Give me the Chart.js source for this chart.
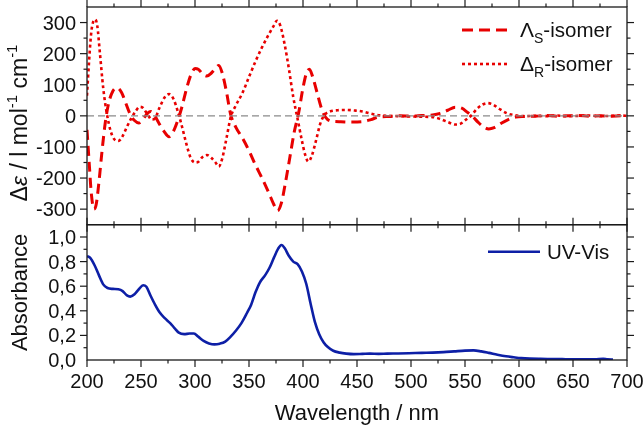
<!DOCTYPE html>
<html><head><meta charset="utf-8">
<script src="https://cdn.jsdelivr.net/npm/chart.js@4/dist/chart.umd.min.js"></script>
<style>html,body{margin:0;padding:0;background:#fff;}canvas{display:block;}</style>
</head><body>
<canvas id="c" width="644" height="426"></canvas>
<script>
// ---------- DATA ----------
const lambdaWl = [200,202,204,206.5,208.5,211,214,217,220,224,228,232,236,240,244,248,252,256,259,262,266,271,276,280,284,288,292,296,300,303,307,311,315,319,322,325,329,333,338,344,350,356,362,368,373,376.5,380,384,388,392,396,400,403,406,409,413,417,421,426,435,445,455,463,470,480,490,500,510,520,527,534,541,547,552,557,562,567,572,577,583,590,597,605,615,625,635,645,655,665,675,685,695,700];
const lambdaCD = [-45,-150,-250,-300,-285,-215,-110,-20,40,80,90,75,40,5,-15,-23,-10,8,14,5,-20,-48,-67,-50,-15,30,85,130,152,150,135,128,137,152,162,140,80,5,-38,-72,-112,-158,-200,-245,-285,-305,-280,-210,-130,-50,10,90,135,150,125,75,25,-5,-17,-19,-20,-19,-12,-4,-2,0,-1,1,3,8,18,28,25,12,-2,-20,-35,-42,-38,-25,-12,-4,-2,-1,1,-1,0,1,-1,0,-1,0,-1];

const deltaWl = [200,202,204,206,207.5,209.5,212,215,218,222,226,229,233,237,241,245,249,252,256,260,263,267,272,276,280,284,288,292,296,300,303,307,311,315,319,322,325,329,333,338,344,350,356,362,368,373,376,379,383,387,391,395,399,402,405,408,412,416,420,425,432,440,448,455,463,470,480,490,500,510,520,527,534,541,546,551,556,561,566,571,576,582,589,596,605,615,625,635,645,655,665,675,685,695,700];
const deltaCD = [65,180,270,305,310,290,200,90,15,-50,-78,-81,-65,-35,-8,15,29,25,5,-12,-8,25,60,70,55,15,-35,-90,-135,-150,-148,-132,-126,-135,-150,-163,-140,-75,-5,35,74,125,175,220,260,290,306,290,230,150,60,-10,-80,-125,-147,-130,-80,-25,3,14,18,19,17,14,7,2,0,-1,-2,-3,-4,-10,-20,-28,-25,-12,2,22,36,41,36,22,8,2,-1,0,-1,1,-1,0,1,-1,0,1,0];

const uvWl = [200,203,207,211,215,219,224,229,233,237,240,244,248,252,255,259,263,267,272,277,281,285,290,295,299,303,308,313,318,323,328,333,338,343,348,352,356,360,365,369,373,377,380,383,387,391,395,399,403,407,411,415,419,423,428,434,440,447,455,462,470,478,488,498,510,520,530,540,550,558,565,572,580,588,595,602,610,620,630,640,650,660,670,678,682,687];
const uvAbs = [0.845,0.83,0.77,0.69,0.615,0.585,0.578,0.575,0.56,0.525,0.515,0.535,0.575,0.608,0.595,0.52,0.45,0.39,0.34,0.30,0.26,0.222,0.21,0.215,0.215,0.19,0.155,0.135,0.127,0.133,0.15,0.19,0.24,0.30,0.38,0.45,0.55,0.63,0.69,0.75,0.83,0.905,0.935,0.91,0.845,0.80,0.78,0.72,0.62,0.46,0.31,0.21,0.145,0.105,0.075,0.06,0.052,0.048,0.05,0.052,0.05,0.052,0.053,0.055,0.058,0.06,0.064,0.07,0.076,0.078,0.07,0.058,0.043,0.03,0.022,0.015,0.011,0.009,0.008,0.007,0.006,0.006,0.005,0.01,0.005,0.004];

const xRange = [200, 700];
const cdRange = [-350, 350];
const absRange = [0, 1.1];
const xMajor = [200,250,300,350,400,450,500,550,600,650,700];
const xLabels = ['200','250','300','350','400','450','500','550','600','650','700'];
const cdMajor = [-300,-200,-100,0,100,200,300];
const cdLabels = ['-300','-200','-100','0','100','200','300'];
const absMajor = [0,0.2,0.4,0.6,0.8,1.0];
const absLabels = ['0,0','0,2','0,4','0,6','0,8','1,0'];
const xMinorStep = 25, cdMinorStep = 50, absMinorStep = 0.1;

// ---------- STYLE ----------
const RED = 'rgb(232,0,0)';
const BLUE = '#0d1fa6';
const FONT = '"Liberation Sans", Arial, sans-serif';
const SPLIT = 0.6167; // fraction of plot height used by the CD panel

const pts = (xs, ys) => xs.map((v, i) => ({x: v, y: ys[i]}));

const decor = {
  id: 'decor',
  afterDraw(chart) {
    const ctx = chart.ctx;
    const sx = chart.scales.x, yc = chart.scales.yc, ya = chart.scales.ya;
    const L = sx.left, R = sx.right;
    const t1 = yc.getPixelForValue(cdRange[1]), b1 = yc.getPixelForValue(cdRange[0]);
    const t2 = ya.getPixelForValue(absRange[1]), b2 = ya.getPixelForValue(absRange[0]);
    ctx.save();
    ctx.strokeStyle = '#1a1a1a';
    ctx.lineWidth = 1.3;
    ctx.strokeRect(L, t1, R - L, b1 - t1);
    ctx.strokeRect(L, t2, R - L, b2 - t2);
    const MAJ = 7, MIN = 3.5;
    ctx.lineWidth = 1.2;
    const line = (x1, y1, x2, y2) => { ctx.beginPath(); ctx.moveTo(x1, y1); ctx.lineTo(x2, y2); ctx.stroke(); };
    const isMaj = (v, arr) => arr.some(m => Math.abs(m - v) < 1e-6);
    for (let v = xRange[0]; v <= xRange[1] + 1e-6; v += xMinorStep) {
      const px = sx.getPixelForValue(v);
      const len = isMaj(v, xMajor) ? MAJ : MIN;
      line(px, t1, px, t1 - len);
      line(px, b1, px, b1 + len);
      line(px, t2, px, t2 - len);
      line(px, b2, px, b2 + len);
    }
    for (let v = cdRange[0]; v <= cdRange[1] + 1e-6; v += cdMinorStep) {
      if (v <= cdRange[0] || v >= cdRange[1]) continue;
      const py = yc.getPixelForValue(v);
      const len = isMaj(v, cdMajor) ? MAJ : MIN;
      line(L, py, L - len, py);
      line(R, py, R + len, py);
    }
    for (let k = 1; k * absMinorStep < absRange[1] - 1e-6; k++) {
      const v = k * absMinorStep;
      const py = ya.getPixelForValue(v);
      const len = isMaj(v, absMajor) ? MAJ : MIN;
      line(L, py, L - len, py);
      line(R, py, R + len, py);
    }
    // tick labels
    ctx.fillStyle = '#111';
    ctx.font = '20px ' + FONT;
    ctx.textAlign = 'right';
    ctx.textBaseline = 'alphabetic';
    cdMajor.forEach((v, i) => ctx.fillText(cdLabels[i], L - 11, yc.getPixelForValue(v) + 7));
    absMajor.forEach((v, i) => ctx.fillText(absLabels[i], L - 11, ya.getPixelForValue(v) + 7));
    ctx.textAlign = 'center';
    xMajor.forEach((v, i) => ctx.fillText(xLabels[i], sx.getPixelForValue(v), b2 + 27.5));
    // axis titles
    ctx.font = '22px ' + FONT;
    ctx.fillText('Wavelength / nm', (L + R) / 2, 420);
    ctx.save();
    ctx.translate(26.5, (t2 + b2) / 2);
    ctx.rotate(-Math.PI / 2);
    ctx.textAlign = 'center';
    ctx.fillText('Absorbance', 0, 0);
    ctx.restore();
    const parts = [
      {t: 'Δ', f: '23px ' + FONT, dy: 0},
      {t: 'ε', f: 'italic 23px ' + FONT, dy: 0},
      {t: ' / l mol', f: '23px ' + FONT, dy: 0},
      {t: '-1', f: '15px ' + FONT, dy: -9.5},
      {t: ' cm', f: '23px ' + FONT, dy: 0},
      {t: '-1', f: '15px ' + FONT, dy: -9.5}
    ];
    let tw = 0;
    parts.forEach(p => { ctx.font = p.f; p.w = ctx.measureText(p.t).width; tw += p.w; });
    ctx.save();
    ctx.translate(26.5, 123);
    ctx.rotate(-Math.PI / 2);
    ctx.textAlign = 'left';
    let cx = -tw / 2;
    parts.forEach(p => { ctx.font = p.f; ctx.fillText(p.t, cx, p.dy); cx += p.w; });
    ctx.restore();
    // legends
    const legendRow = (y, dash, lw, color, main, sub) => {
      ctx.save();
      ctx.strokeStyle = color; ctx.lineWidth = lw; ctx.setLineDash(dash);
      line(462, y, 509, y);
      ctx.restore();
      ctx.textAlign = 'left';
      ctx.fillStyle = '#111';
      let x0 = 520;
      ctx.font = '21px ' + FONT;
      ctx.fillText(main, x0, y + 7); x0 += ctx.measureText(main).width;
      ctx.font = '14px ' + FONT;
      ctx.fillText(sub, x0, y + 12.5); x0 += ctx.measureText(sub).width;
      ctx.font = '20.5px ' + FONT;
      ctx.fillText('-isomer', x0, y + 7);
    };
    legendRow(30, [11, 6], 3, RED, 'Λ', 'S');
    legendRow(64, [3, 3], 2.6, RED, 'Δ', 'R');
    ctx.save();
    ctx.strokeStyle = BLUE; ctx.lineWidth = 2.6; ctx.setLineDash([]);
    line(488, 251.7, 540, 251.7);
    ctx.restore();
    ctx.font = '20.5px ' + FONT;
    ctx.textAlign = 'left';
    ctx.fillText('UV-Vis', 547, 259.3);
    ctx.restore();
  }
};

new Chart(document.getElementById('c'), {
  type: 'line',
  data: {
    datasets: [
      {label: 'zero', data: pts([xRange[0], xRange[1]], [0, 0]), yAxisID: 'yc',
       borderColor: '#8a8a8a', borderWidth: 1.1, borderDash: [7, 4], pointRadius: 0, tension: 0},
      {label: 'ΛS-isomer', data: pts(lambdaWl, lambdaCD), yAxisID: 'yc',
       borderColor: RED, borderWidth: 3, borderDash: [10, 6], pointRadius: 0, cubicInterpolationMode: 'monotone'},
      {label: 'ΔR-isomer', data: pts(deltaWl, deltaCD), yAxisID: 'yc',
       borderColor: RED, borderWidth: 2.6, borderDash: [3, 3], pointRadius: 0, cubicInterpolationMode: 'monotone'},
      {label: 'UV-Vis', data: pts(uvWl, uvAbs), yAxisID: 'ya',
       borderColor: BLUE, borderWidth: 2.6, pointRadius: 0, cubicInterpolationMode: 'monotone'}
    ]
  },
  options: {
    responsive: false,
    animation: false,
    events: [],
    layout: {padding: {left: 87, right: 17, top: 7, bottom: 66}},
    plugins: {legend: {display: false}, tooltip: {enabled: false}},
    scales: {
      x: {type: 'linear', min: xRange[0], max: xRange[1], display: false},
      yc: {type: 'linear', position: 'left', display: false,
           max: cdRange[1], min: cdRange[1] - (cdRange[1] - cdRange[0]) / SPLIT},
      ya: {type: 'linear', position: 'left', display: false,
           min: absRange[0], max: absRange[0] + (absRange[1] - absRange[0]) / (1 - SPLIT)}
    }
  },
  plugins: [decor]
});
</script>
</body></html>
